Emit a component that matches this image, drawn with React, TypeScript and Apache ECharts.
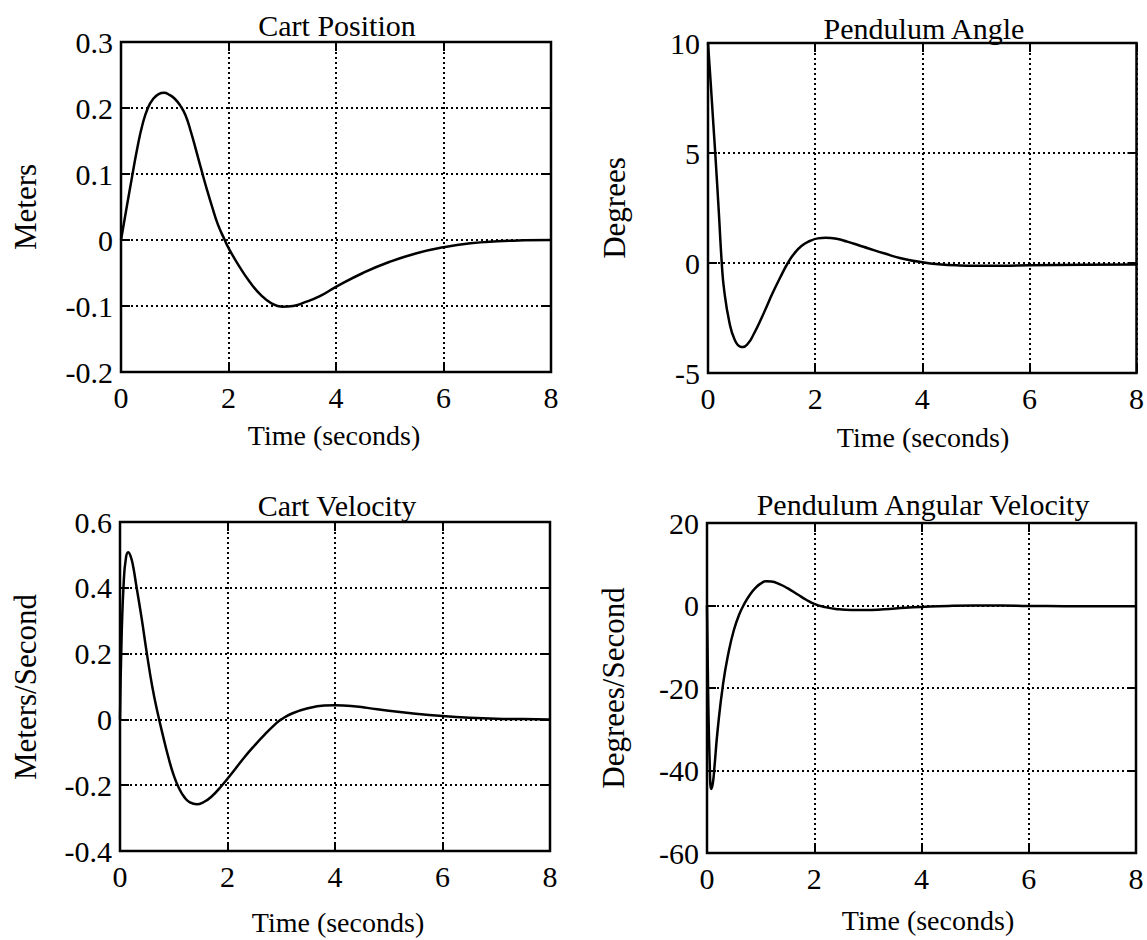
import React, { useEffect, useRef } from "react";
import * as echarts from "echarts";

// ---------- data ----------
const timeRange = [0, 8, 2];

const cartPosT = [0, 0.1, 0.2, 0.3, 0.4, 0.5, 0.6, 0.7, 0.8, 0.9, 1.0, 1.1, 1.2, 1.3, 1.4, 1.5, 1.6, 1.7, 1.8, 1.93, 2.0, 2.2, 2.4, 2.6, 2.8, 3.0, 3.2, 3.4, 3.7, 4.0, 4.5, 5.0, 5.5, 6.0, 6.5, 7.0, 7.5, 8.0];
const cartPosV = [0, 0.047, 0.093, 0.138, 0.175, 0.2, 0.214, 0.221, 0.223, 0.22, 0.214, 0.204, 0.189, 0.164, 0.135, 0.105, 0.076, 0.049, 0.024, 0, -0.012, -0.04, -0.064, -0.083, -0.096, -0.101, -0.1, -0.095, -0.085, -0.071, -0.05, -0.033, -0.02, -0.011, -0.005, -0.002, -0.0005, 0];
const cartPosAxis = [-0.2, 0.3, 0.1];

const pendAngT = [0, 0.05, 0.1, 0.135, 0.2, 0.257, 0.3, 0.4, 0.5, 0.6, 0.65, 0.75, 0.85, 1.0, 1.1, 1.2, 1.35, 1.49, 1.6, 1.75, 1.9, 2.05, 2.2, 2.4, 2.6, 2.8, 3.0, 3.3, 3.6, 4.0, 4.3, 4.7, 5.0, 5.5, 6.0, 7.0, 8.0];
const pendAngV = [10, 8.2, 6.3, 5, 2.4, 0, -1.2, -2.7, -3.5, -3.8, -3.82, -3.65, -3.25, -2.5, -1.95, -1.4, -0.65, 0, 0.4, 0.78, 1.0, 1.12, 1.15, 1.1, 0.97, 0.82, 0.66, 0.43, 0.22, 0.03, -0.06, -0.11, -0.12, -0.12, -0.1, -0.08, -0.07];
const pendAngAxis = [-5, 10, 5];

const cartVelT = [0, 0.03, 0.07, 0.11, 0.15, 0.2, 0.25, 0.3, 0.4, 0.5, 0.6, 0.7, 0.8, 0.9, 1.0, 1.1, 1.2, 1.3, 1.43, 1.55, 1.7, 1.9, 2.1, 2.3, 2.5, 2.7, 2.9, 3.0, 3.2, 3.5, 3.8, 4.0, 4.3, 4.6, 5.0, 5.5, 6.0, 6.5, 7.0, 7.5, 8.0];
const cartVelV = [0, 0.25, 0.42, 0.49, 0.508, 0.495, 0.46, 0.41, 0.31, 0.2, 0.1, 0.02, -0.05, -0.115, -0.17, -0.21, -0.237, -0.252, -0.258, -0.252, -0.235, -0.2, -0.16, -0.118, -0.08, -0.045, -0.013, 0, 0.018, 0.034, 0.042, 0.043, 0.041, 0.035, 0.026, 0.017, 0.01, 0.005, 0.002, 0.001, 0];
const cartVelAxis = [-0.4, 0.6, 0.2];

const pendVelT = [0, 0.02, 0.05, 0.08, 0.11, 0.14, 0.2, 0.3, 0.4, 0.5, 0.6, 0.7, 0.8, 0.9, 1.0, 1.1, 1.2, 1.35, 1.5, 1.7, 1.85, 2.0, 2.2, 2.4, 2.7, 2.95, 3.3, 3.7, 4.0, 4.5, 5.0, 5.5, 6.0, 7.0, 8.0];
const pendVelV = [0, -20, -38, -44.5, -43, -39, -30, -19, -11.5, -6, -2.2, 0.5, 2.6, 4.2, 5.3, 5.85, 5.8, 5.2, 4.2, 2.6, 1.4, 0.4, -0.4, -0.85, -1.1, -1.1, -0.9, -0.55, -0.35, -0.1, 0, 0, -0.1, -0.2, -0.2];
const pendVelAxis = [-60, 20, 20];

const titles = ["Cart Position", "Pendulum Angle", "Cart Velocity", "Pendulum Angular Velocity"];
const yNames = ["Meters", "Degrees", "Meters/Second", "Degrees/Second"];
const xName = "Time (seconds)";

// ---------- layout ----------
const FONT = "'Liberation Serif', 'Times New Roman', Times, serif";
const layout = [
  { left: 121, top: 42, width: 430, height: 330, title: [337, 25], xn: [334, 435], yn: [25, 207] },
  { left: 708, top: 43, width: 429, height: 330, title: [924, 28], xn: [923, 437], yn: [614, 208] },
  { left: 120, top: 522, width: 430, height: 329, title: [337, 505], xn: [338, 922], yn: [25, 687] },
  { left: 707, top: 523, width: 429, height: 330, title: [923, 504], xn: [928, 920], yn: [613, 688] },
];

function zip(t: number[], v: number[]) {
  return t.map((x, i) => [x, v[i]]);
}

export default function App() {
  const ref = useRef<HTMLDivElement>(null);
  useEffect(() => {
    document.body.style.margin = "0";
    if (!ref.current) return;
    const chart = echarts.init(ref.current, undefined, { renderer: "svg" });
    const panels = [
      { data: zip(cartPosT, cartPosV), axis: cartPosAxis },
      { data: zip(pendAngT, pendAngV), axis: pendAngAxis },
      { data: zip(cartVelT, cartVelV), axis: cartVelAxis },
      { data: zip(pendVelT, pendVelV), axis: pendVelAxis },
    ];
    const grid: any[] = [];
    const xAxis: any[] = [];
    const yAxis: any[] = [];
    const series: any[] = [];
    const graphic: any[] = [];
    const tick = { show: true, inside: true, length: 9, lineStyle: { color: "#000", width: 2 } };
    const gridLine = { show: true, lineStyle: { color: "#000", type: [2, 3], width: 2 } };
    panels.forEach((p, i) => {
      const L = layout[i];
      grid.push({
        left: L.left, top: L.top, width: L.width, height: L.height,
        show: true, borderColor: "#000", borderWidth: 2.5, backgroundColor: "transparent",
      });
      const xBase = {
        type: "value", gridIndex: i, min: timeRange[0], max: timeRange[1], interval: timeRange[2],
        axisLine: { show: false, onZero: false },
      };
      xAxis.push({
        ...xBase, position: "bottom",
        axisTick: tick,
        axisLabel: { show: true, fontFamily: FONT, fontSize: 30, color: "#000", margin: 10, showMinLabel: true, showMaxLabel: true },
        splitLine: gridLine,
      });
      xAxis.push({
        ...xBase, position: "top",
        axisTick: tick, axisLabel: { show: false }, splitLine: { show: false },
      });
      const yBase = {
        type: "value", gridIndex: i, min: p.axis[0], max: p.axis[1], interval: p.axis[2],
        axisLine: { show: false, onZero: false },
      };
      yAxis.push({
        ...yBase, position: "left",
        axisTick: tick,
        axisLabel: { show: true, fontFamily: FONT, fontSize: 30, color: "#000", margin: 8, showMinLabel: true, showMaxLabel: true },
        splitLine: gridLine,
      });
      yAxis.push({
        ...yBase, position: "right",
        axisTick: tick, axisLabel: { show: false }, splitLine: { show: false },
      });
      series.push({
        type: "line", xAxisIndex: i * 2, yAxisIndex: i * 2, data: p.data,
        showSymbol: false, smooth: 0.5,
        lineStyle: { color: "#000", width: 2.5 }, z: 5,
      });
      graphic.push({
        type: "text", x: L.title[0], y: L.title[1], z: 10,
        style: { text: titles[i], fontFamily: FONT, fontSize: 30, fill: "#000", align: "center", verticalAlign: "middle" },
      });
      graphic.push({
        type: "text", x: L.xn[0], y: L.xn[1], z: 10,
        style: { text: xName, fontFamily: FONT, fontSize: 28, fill: "#000", align: "center", verticalAlign: "middle" },
      });
      graphic.push({
        type: "text", x: L.yn[0], y: L.yn[1], rotation: Math.PI / 2, z: 10,
        style: { text: yNames[i], fontFamily: FONT, fontSize: 31, fill: "#000", align: "center", verticalAlign: "middle" },
      });
    });
    chart.setOption({
      animation: false,
      backgroundColor: "#fff",
      grid, xAxis, yAxis, series, graphic,
    });
    return () => chart.dispose();
  }, []);
  return <div ref={ref} style={{ width: 1147, height: 940 }} />;
}
